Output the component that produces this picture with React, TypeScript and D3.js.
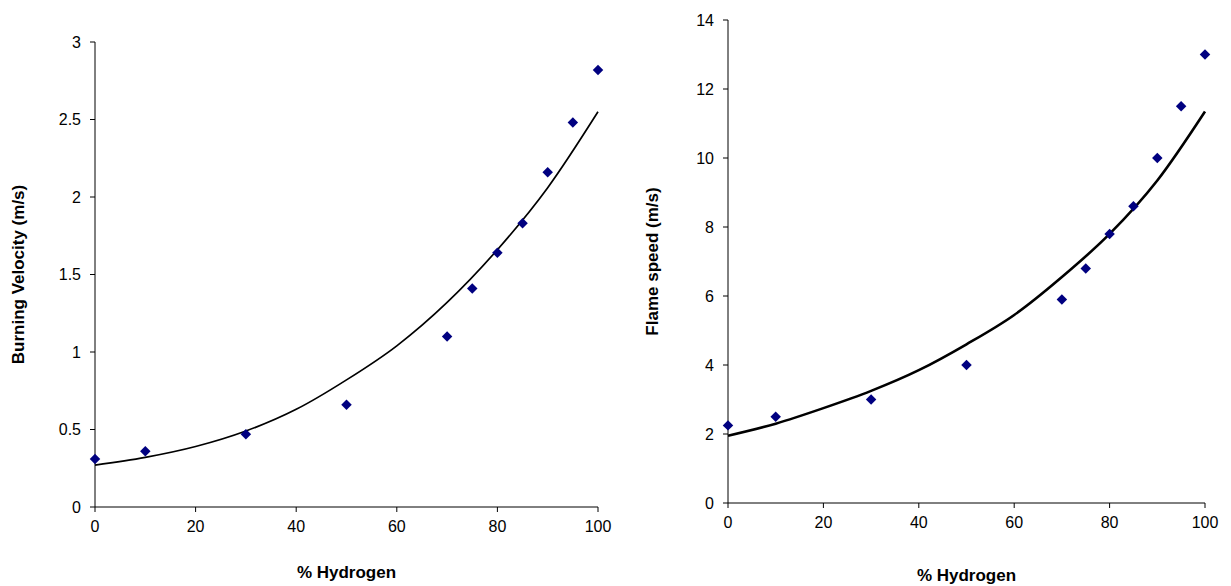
import React from "react";
import * as d3 from "d3";

const xsPts = [0, 10, 30, 50, 70, 75, 80, 85, 90, 95, 100];
const burningVel = [0.31, 0.36, 0.47, 0.66, 1.1, 1.41, 1.64, 1.83, 2.16, 2.48, 2.82];
const flameSpeed = [2.25, 2.5, 3.0, 4.0, 5.9, 6.8, 7.8, 8.6, 10.0, 11.5, 13.0];
const xsCurve = [0, 10, 20, 30, 40, 50, 60, 70, 80, 90, 100];
const burningFit = [0.27, 0.32, 0.39, 0.49, 0.63, 0.82, 1.04, 1.32, 1.66, 2.06, 2.55];
const flameFit = [1.95, 2.3, 2.75, 3.25, 3.85, 4.6, 5.45, 6.55, 7.8, 9.35, 11.35];
const xTicks = [0, 20, 40, 60, 80, 100];
const leftYTicks = [0, 0.5, 1, 1.5, 2, 2.5, 3];
const rightYTicks = [0, 2, 4, 6, 8, 10, 12, 14];

type P = {
  x0: number; x1: number; y0: number; y1: number; ymax: number;
  yTicks: number[]; pts: number[]; fit: number[]; ylabel: string; xlabelY: number; lw: number; ylabelX: number;
};

function Panel(p: P) {
  const x = d3.scaleLinear().domain([0, 100]).range([p.x0, p.x1]);
  const y = d3.scaleLinear().domain([0, p.ymax]).range([p.y0, p.y1]);
  const line = d3.line<number>().x((_, i) => x(xsCurve[i])).y((d) => y(d)).curve(d3.curveMonotoneX);
  const font = "'Liberation Sans', Arial, sans-serif";
  return (
    <g fontFamily={font} fill="#000">
      <line x1={p.x0} x2={p.x0} y1={p.y0} y2={p.y1} stroke="#000" />
      <line x1={p.x0} x2={p.x1} y1={p.y0} y2={p.y0} stroke="#000" />
      {p.yTicks.map((t) => (
        <g key={"y" + t}>
          <line x1={p.x0 - 5} x2={p.x0} y1={y(t)} y2={y(t)} stroke="#000" />
          <text x={p.x0 - 14} y={y(t)} dy="0.35em" textAnchor="end" fontSize={16}>{t}</text>
        </g>
      ))}
      {xTicks.map((t) => (
        <g key={"x" + t}>
          <line x1={x(t)} x2={x(t)} y1={p.y0} y2={p.y0 + 5} stroke="#000" />
          <text x={x(t)} y={p.y0 + 25} textAnchor="middle" fontSize={16}>{t}</text>
        </g>
      ))}
      <text x={(p.x0 + p.x1) / 2} y={p.xlabelY} textAnchor="middle" fontSize={17} fontWeight="bold">% Hydrogen</text>
      <text transform={`translate(${p.ylabelX},${(p.y0 + p.y1) / 2}) rotate(-90)`} textAnchor="middle" fontSize={17} fontWeight="bold">{p.ylabel}</text>
      <path d={line(p.fit) || ""} fill="none" stroke="#000" strokeWidth={p.lw} />
      {p.pts.map((v, i) => (
        <path key={i} d={d3.symbol(d3.symbolDiamond2, 70)() || ""} transform={`translate(${x(xsPts[i])},${y(v)})`} fill="#000080" />
      ))}
    </g>
  );
}

export default function App() {
  return (
    <svg width={1231} height={586} style={{ display: "block", position: "absolute", left: 0, top: 0, background: "#fff" }}>
      <Panel x0={95} x1={598} y0={507} y1={42} ymax={3} yTicks={leftYTicks} pts={burningVel} fit={burningFit}
        ylabel="Burning Velocity (m/s)" xlabelY={578} lw={1.7} ylabelX={24} />
      <Panel x0={728} x1={1205} y0={503} y1={20} ymax={14} yTicks={rightYTicks} pts={flameSpeed} fit={flameFit}
        ylabel="Flame speed (m/s)" xlabelY={581} lw={2.6} ylabelX={658} />
    </svg>
  );
}
